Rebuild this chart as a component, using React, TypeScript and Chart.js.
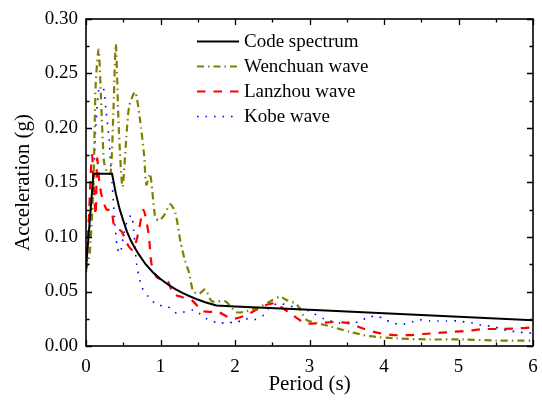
import React, { useEffect, useRef } from "react";
import { Chart, registerables } from "chart.js";

Chart.register(...registerables);

// ---------- data ----------
const codeT = [0, 0.1, 0.35, 0.4, 0.45, 0.5, 0.55, 0.6, 0.65, 0.7, 0.8, 0.9, 1.0, 1.1, 1.2, 1.3, 1.4, 1.5, 1.6, 1.75, 2, 3, 4, 5, 6];
const codeA = [0.071, 0.158, 0.158, 0.14, 0.126, 0.115, 0.105, 0.097, 0.0905, 0.085, 0.075, 0.0675, 0.0614, 0.0564, 0.0521, 0.0485, 0.0454, 0.0426, 0.0402, 0.0371, 0.0363, 0.0332, 0.03, 0.0268, 0.0237];

const wenchuanT = [0, 0.05, 0.1, 0.13, 0.17, 0.2, 0.24, 0.28, 0.33, 0.37, 0.4, 0.44, 0.49, 0.54, 0.58, 0.66, 0.72, 0.78, 0.81, 0.86, 0.93, 0.98, 1.05, 1.13, 1.2, 1.27, 1.33, 1.38, 1.44, 1.52, 1.6, 1.69, 1.87, 2.02, 2.16, 2.34, 2.5, 2.6, 2.7, 2.83, 2.96, 3.1, 3.28, 3.54, 3.81, 4.17, 4.62, 5.06, 5.51, 6];
const wenchuanA = [0.07, 0.085, 0.15, 0.24, 0.272, 0.23, 0.17, 0.16, 0.158, 0.22, 0.277, 0.2, 0.146, 0.19, 0.22, 0.233, 0.21, 0.175, 0.148, 0.158, 0.118, 0.115, 0.12, 0.13, 0.122, 0.095, 0.078, 0.068, 0.05, 0.048, 0.052, 0.041, 0.041, 0.031, 0.032, 0.036, 0.042, 0.045, 0.042, 0.038, 0.024, 0.021, 0.018, 0.013, 0.009, 0.007, 0.006, 0.006, 0.005, 0.005];

const lanzhouT = [0, 0.04, 0.08, 0.11, 0.13, 0.15, 0.18, 0.22, 0.28, 0.34, 0.38, 0.48, 0.55, 0.63, 0.7, 0.77, 0.84, 0.88, 0.95, 1.02, 1.1, 1.17, 1.28, 1.42, 1.57, 1.78, 1.96, 2.14, 2.36, 2.52, 2.74, 2.94, 3.12, 3.32, 3.52, 3.72, 3.92, 4.13, 4.35, 4.53, 4.73, 4.93, 5.13, 5.33, 5.51, 5.74, 6];
const lanzhouA = [0.068, 0.12, 0.175, 0.14, 0.12, 0.172, 0.15, 0.135, 0.125, 0.125, 0.11, 0.105, 0.094, 0.088, 0.103, 0.125, 0.103, 0.075, 0.063, 0.061, 0.059, 0.048, 0.045, 0.042, 0.032, 0.031, 0.025, 0.028, 0.036, 0.039, 0.03, 0.021, 0.021, 0.022, 0.021, 0.016, 0.012, 0.01, 0.01, 0.011, 0.012, 0.013, 0.014, 0.0155, 0.0156, 0.016, 0.017];

const kobeT = [0, 0.04, 0.08, 0.1, 0.13, 0.17, 0.2, 0.24, 0.27, 0.31, 0.33, 0.35, 0.38, 0.42, 0.46, 0.5, 0.55, 0.61, 0.64, 0.68, 0.75, 0.84, 0.95, 1.1, 1.22, 1.44, 1.62, 1.78, 1.91, 2.0, 2.13, 2.25, 2.38, 2.47, 2.6, 2.83, 2.94, 3.05, 3.19, 3.41, 3.54, 3.66, 3.77, 3.9, 4.01, 4.12, 4.26, 4.37, 4.48, 4.62, 4.73, 4.84, 4.98, 5.09, 5.2, 5.31, 5.45, 5.56, 5.67, 5.78, 5.92, 6];
const kobeA = [0.07, 0.1, 0.13, 0.15, 0.2, 0.235, 0.242, 0.235, 0.215, 0.19, 0.168, 0.15, 0.12, 0.09, 0.085, 0.1, 0.114, 0.12, 0.106, 0.075, 0.054, 0.045, 0.038, 0.036, 0.03, 0.033, 0.025, 0.021, 0.022, 0.021, 0.025, 0.024, 0.028, 0.036, 0.039, 0.035, 0.034, 0.03, 0.025, 0.021, 0.022, 0.022, 0.026, 0.0275, 0.0245, 0.021, 0.02, 0.022, 0.024, 0.023, 0.023, 0.023, 0.023, 0.022, 0.021, 0.019, 0.018, 0.016, 0.014, 0.013, 0.012, 0.012];

const xTickValues = [0, 1, 2, 3, 4, 5, 6];
const xTickLabels = ["0", "1", "2", "3", "4", "5", "6"];
const yTickValues = [0, 0.05, 0.1, 0.15, 0.2, 0.25, 0.3];
const yTickLabels = ["0.00", "0.05", "0.10", "0.15", "0.20", "0.25", "0.30"];
const seriesNames = ["Code spectrum", "Wenchuan wave", "Lanzhou wave", "Kobe wave"];

const FONT = "'Liberation Serif', 'Times New Roman', serif";

const toPts = (t: number[], a: number[]) => t.map((x, i) => ({ x, y: a[i] }));

const framePlugin = {
  id: "frame",
  afterDatasetsDraw(chart: any) {
    const { ctx, chartArea: ca, scales } = chart;
    const xs = scales.x;
    const ys = scales.y;
    ctx.save();
    ctx.strokeStyle = "#000";
    ctx.lineWidth = 1.6;
    ctx.strokeRect(ca.left, ca.top, ca.right - ca.left, ca.bottom - ca.top);
    ctx.lineWidth = 1.3;
    ctx.beginPath();
    for (let i = 0; i <= 12; i++) {
      const v = i * 0.5;
      const px = Math.round(xs.getPixelForValue(v)) + 0.5;
      const len = i % 2 === 0 ? 6 : 3.5;
      ctx.moveTo(px, ca.bottom);
      ctx.lineTo(px, ca.bottom - len);
      ctx.moveTo(px, ca.top);
      ctx.lineTo(px, ca.top + len);
    }
    for (let i = 0; i <= 12; i++) {
      const v = i * 0.025;
      const py = Math.round(ys.getPixelForValue(v)) + 0.5;
      const len = i % 2 === 0 ? 6 : 3.5;
      ctx.moveTo(ca.left, py);
      ctx.lineTo(ca.left + len, py);
      ctx.moveTo(ca.right, py);
      ctx.lineTo(ca.right - len, py);
    }
    ctx.stroke();
    ctx.restore();
  },
};

const legendPlugin = {
  id: "customLegend",
  afterDraw(chart: any) {
    const { ctx } = chart;
    const x0 = 197;
    const x1 = 239;
    const tx = 244;
    const rows = [41.5, 66.5, 91.5, 116.5];
    ctx.save();
    chart.data.datasets.forEach((ds: any, i: number) => {
      const y = rows[i];
      ctx.beginPath();
      ctx.strokeStyle = ds.borderColor;
      ctx.lineWidth = ds.borderWidth;
      ctx.setLineDash(ds.borderDash || []);
      ctx.moveTo(x0, y);
      ctx.lineTo(x1, y);
      ctx.stroke();
      ctx.setLineDash([]);
      ctx.fillStyle = "#000";
      ctx.font = `19px ${FONT}`;
      ctx.textAlign = "left";
      ctx.textBaseline = "middle";
      ctx.fillText(seriesNames[i], tx, y + 1);
    });
    ctx.restore();
  },
};

export default function App() {
  const ref = useRef<HTMLCanvasElement | null>(null);
  useEffect(() => {
    if (!ref.current) return;
    const chart = new Chart(ref.current, {
      type: "line",
      data: {
        datasets: [
          {
            label: seriesNames[0],
            data: toPts(codeT, codeA),
            borderColor: "#000000",
            borderWidth: 2,
            pointRadius: 0,
            tension: 0,
            fill: false,
          },
          {
            label: seriesNames[1],
            data: toPts(wenchuanT, wenchuanA),
            borderColor: "#808000",
            borderWidth: 2.2,
            borderDash: [7, 4, 1.5, 4],
            pointRadius: 0,
            tension: 0.25,
            fill: false,
          },
          {
            label: seriesNames[2],
            data: toPts(lanzhouT, lanzhouA),
            borderColor: "#ff0000",
            borderWidth: 2.2,
            borderDash: [8.5, 8],
            pointRadius: 0,
            tension: 0.25,
            fill: false,
          },
          {
            label: seriesNames[3],
            data: toPts(kobeT, kobeA),
            borderColor: "#0000ff",
            borderWidth: 1.6,
            borderDash: [1.6, 6.9],
            pointRadius: 0,
            tension: 0.25,
            fill: false,
          },
        ],
      },
      options: {
        responsive: false,
        animation: false,
        devicePixelRatio: 1,
        layout: { padding: { top: 19, right: 9, left: 0, bottom: 0 } },
        plugins: { legend: { display: false }, tooltip: { enabled: false } },
        scales: {
          x: {
            type: "linear",
            min: 0,
            max: 6,
            grid: { display: false, drawTicks: false },
            border: { display: false },
            afterBuildTicks: (s: any) => {
              s.ticks = xTickValues.map((v) => ({ value: v }));
            },
            afterFit: (s: any) => {
              s.height = 56;
              s.paddingLeft = 0;
              s.paddingRight = 0;
            },
            ticks: {
              color: "#000",
              padding: 10,
              maxRotation: 0,
              font: { family: FONT, size: 19 },
              callback: (_v: any, i: number) => xTickLabels[i],
            },
            title: {
              display: true,
              text: "Period (s)",
              color: "#000",
              font: { family: FONT, size: 21 },
              padding: { top: 0, bottom: 5 },
            },
          },
          y: {
            type: "linear",
            min: 0,
            max: 0.3,
            grid: { display: false, drawTicks: false },
            border: { display: false },
            afterBuildTicks: (s: any) => {
              s.ticks = yTickValues.map((v) => ({ value: v }));
            },
            afterFit: (s: any) => {
              s.width = 86;
              s.paddingTop = 0;
              s.paddingBottom = 0;
            },
            ticks: {
              color: "#000",
              padding: 8,
              font: { family: FONT, size: 19 },
              callback: (_v: any, i: number) => yTickLabels[i],
            },
            title: {
              display: true,
              text: "Acceleration (g)",
              color: "#000",
              font: { family: FONT, size: 21 },
              padding: { top: 11, bottom: 0 },
            },
          },
        },
      },
      plugins: [framePlugin, legendPlugin],
    });
    return () => chart.destroy();
  }, []);
  return (
    <div style={{ position: "fixed", left: 0, top: 0, width: 542, height: 402, background: "#fff" }}>
      <canvas ref={ref} width={542} height={402} style={{ display: "block" }} />
    </div>
  );
}
